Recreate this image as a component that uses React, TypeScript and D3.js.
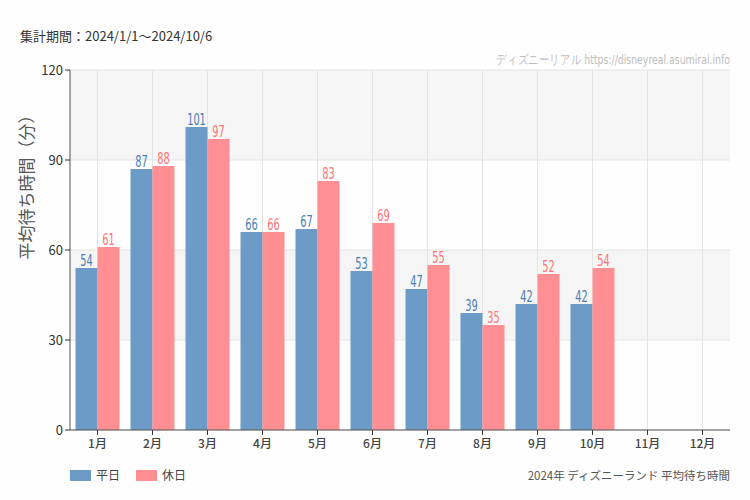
import React from "react";
import * as d3 from "d3";

const months = ["1月", "2月", "3月", "4月", "5月", "6月", "7月", "8月", "9月", "10月", "11月", "12月"];
const weekday: (number | null)[] = [54, 87, 101, 66, 67, 53, 47, 39, 42, 42, null, null];
const holiday: (number | null)[] = [61, 88, 97, 66, 83, 69, 55, 35, 52, 54, null, null];
const yTicks = [0, 30, 60, 90, 120];
const seriesNames = ["平日", "休日"];
const barColors = ["#6b9bc6", "#ff8f92"];
const labelColors = ["#4a7db5", "#ff7375"];

const W = 750, H = 500;
const M = { left: 70, right: 20, top: 70, bottom: 70 };

export default function App() {
  const x = d3.scaleBand<string>().domain(months).range([M.left, W - M.right]).padding(0);
  const y = d3.scaleLinear().domain([0, 120]).range([H - M.bottom, M.top]);
  const bw = x.bandwidth() * 0.4;
  const cond = "'DejaVu Sans Condensed', 'Liberation Sans Narrow', sans-serif";
  const jp = "'Noto Sans CJK JP', 'Noto Sans', sans-serif";
  const series = [weekday, holiday];
  return (
    <svg width={W} height={H} style={{ display: "block", position: "absolute", left: 0, top: 0, background: "#fdfefd" }}>
      {yTicks.slice(0, -1).map((t, i) => (
        <rect key={"b" + t} x={M.left} y={y(yTicks[i + 1])} width={W - M.right - M.left}
          height={y(t) - y(yTicks[i + 1])} fill={i % 2 === 1 ? "#f4f5f4" : "#fdfefd"} />
      ))}
      {yTicks.map((t) => (
        <line key={"g" + t} x1={M.left} x2={W - M.right} y1={y(t)} y2={y(t)} stroke="#e4e4e4" />
      ))}
      {months.map((m) => (
        <line key={"v" + m} x1={x(m)! + x.bandwidth() / 2} x2={x(m)! + x.bandwidth() / 2} y1={M.top} y2={H - M.bottom} stroke="#e4e4e4" />
      ))}
      {series.map((s, si) =>
        s.map((v, i) =>
          v == null ? null : (
            <rect key={"r" + si + i} x={x(months[i])! + x.bandwidth() / 2 - bw + si * bw} y={y(v)} width={bw}
              height={y(0) - y(v)} fill={barColors[si]} />
          )
        )
      )}
      {series.map((s, si) =>
        s.map((v, i) =>
          v == null ? null : (
            <text key={"l" + si + i}
              transform={`translate(${x(months[i])! + x.bandwidth() / 2 - bw / 2 + si * bw},${y(v) - 2}) scale(0.68,1)`}
              textAnchor="middle" fontFamily={cond} fontSize={16} fill={labelColors[si]}>{v}</text>
          )
        )
      )}
      <line x1={M.left} x2={M.left} y1={M.top} y2={H - M.bottom} stroke="#555" />
      <line x1={M.left} x2={W - M.right} y1={H - M.bottom} y2={H - M.bottom} stroke="#555" />
      {yTicks.map((t) => (
        <g key={"yt" + t}>
          <line x1={M.left - 5} x2={M.left} y1={y(t)} y2={y(t)} stroke="#333" />
          <text x={M.left - 7} y={y(t) + 4.5} textAnchor="end" fontFamily={jp} fontSize={13} fill="#333">{t}</text>
        </g>
      ))}
      {months.map((m) => (
        <g key={"xt" + m}>
          <line x1={x(m)! + x.bandwidth() / 2} x2={x(m)! + x.bandwidth() / 2} y1={H - M.bottom} y2={H - M.bottom + 5} stroke="#333" />
          <text x={x(m)! + x.bandwidth() / 2} y={H - M.bottom + 18} textAnchor="middle" fontFamily={jp} fontSize={12} fontWeight={500} fill="#444">{m}</text>
        </g>
      ))}
      <text transform={`translate(33,183) rotate(-90)`} textAnchor="middle" fontFamily={jp} fontSize={17} fill="#555">平均待ち時間（分）</text>
      <text x={20} y={41} fontFamily={jp} fontSize={13} fill="#333">集計期間：2024/1/1～2024/10/6</text>
      <text transform={`translate(${W - M.right},64) scale(0.8,1)`} textAnchor="end" fontFamily={cond} fontSize={13} fill="#bdbdbd">ディズニーリアル https://disneyreal.asumirai.info</text>
      {seriesNames.map((n, i) => (
        <g key={"lg" + n}>
          <rect x={70 + i * 66} y={470} width={21} height={11} fill={barColors[i]} />
          <text x={96 + i * 66} y={480} fontFamily={jp} fontSize={12} fill="#444">{n}</text>
        </g>
      ))}
      <text x={W - M.right} y={480} textAnchor="end" fontFamily={jp} fontSize={11.5} fill="#555">2024年 ディズニーランド 平均待ち時間</text>
    </svg>
  );
}
